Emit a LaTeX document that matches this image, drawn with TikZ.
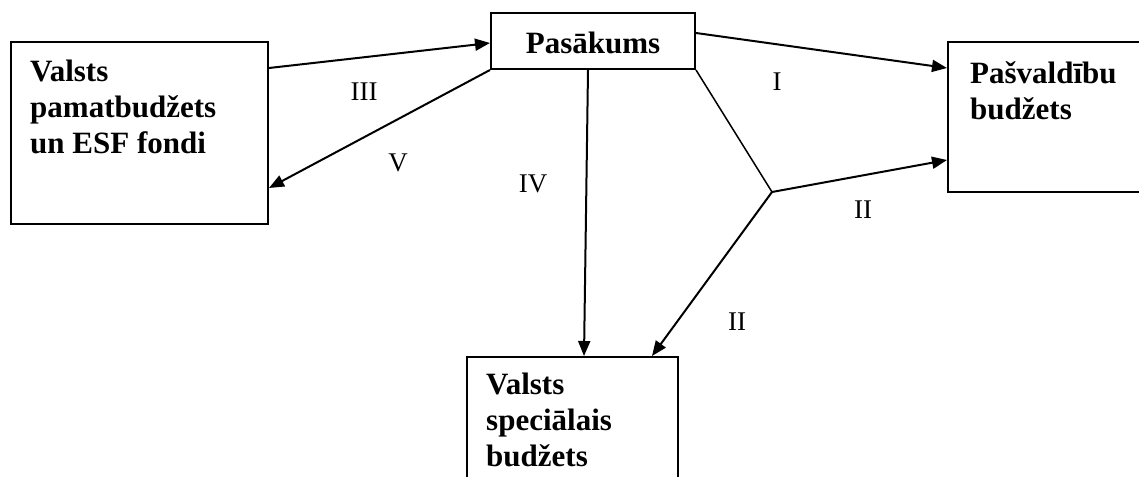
\documentclass[tikz,border=0pt]{standalone}
\usepackage{fontspec}
\setmainfont{Liberation Serif}
\usetikzlibrary{arrows.meta,calc}

\begin{document}
\begin{tikzpicture}[
  x=1pt, y=-1pt,
  budbox/.style={rectangle, draw, line width=2pt, inner sep=0pt},
  boxtext/.style={anchor=north west, inner sep=0pt, align=left, font=\fontsize{31}{36}\selectfont\bfseries},
  flowarrow/.style={-{Triangle[length=15pt,width=12pt]}, line width=2pt},
  branchline/.style={line width=1.5pt},
  numlabel/.style={inner sep=0pt, font=\fontsize{27}{27}\selectfont}
]
\useasboundingbox (0,0) rectangle (1139,476);

% Boxes
\node[budbox, minimum width=204pt, minimum height=56pt, text height=26pt, text depth=0pt,
      font=\fontsize{31}{36}\selectfont\bfseries] (pasakums) at (593,41) {Pasākums};
\node[budbox, minimum width=257pt, minimum height=182pt] (valsts_box) at (139.5,133) {};
\node[boxtext] (valsts_txt) at ($(valsts_box.north west)+(20,19)$) {Valsts\\pamatbudžets\\un ESF fondi};
\node[budbox, minimum width=193pt, minimum height=150pt] (pasv_box) at (1044.5,117) {};
\node[boxtext] (pasv_txt) at ($(pasv_box.north west)+(23,20)$) {Pašvaldību\\budžets};
\node[budbox, minimum width=211pt, minimum height=126pt] (spec_box) at (572.5,420) {};
\node[boxtext] (spec_txt) at ($(spec_box.north west)+(20,17)$) {Valsts\\speciālais\\budžets};

% Flows to and from the state budget
\draw[flowarrow] ($(valsts_box.north east)+(0,27)$) -- ($(pasakums.west)+(0,2)$);
\draw[flowarrow] (pasakums.south west) -- ($(valsts_box.east)+(0,55)$);
\draw[flowarrow] ($(pasakums.south)+(-5,0)$) -- ($(spec_box.north)+(11.5,0)$);
\draw[flowarrow] ($(pasakums.north east)+(0,21)$) -- ($(pasv_box.north west)+(0,27)$);

% Split flow
\coordinate (junction) at (772,192);
\draw[branchline] (pasakums.south east) -- (junction);
\draw[flowarrow] (junction) -- ($(pasv_box.south west)+(0,-33)$);
\draw[flowarrow] (junction) -- ($(spec_box.north)+(79.5,0)$);

% Flow numbers
\node[numlabel] (lbl_iii) at (364,92) {III};
\node[numlabel] (lbl_v) at (398,163) {V};
\node[numlabel] (lbl_iv) at (533,184) {IV};
\node[numlabel] (lbl_i) at (777,82) {I};
\node[numlabel] (lbl_ii_a) at (863,210) {II};
\node[numlabel] (lbl_ii_b) at (737,322) {II};

\end{tikzpicture}
\end{document}
